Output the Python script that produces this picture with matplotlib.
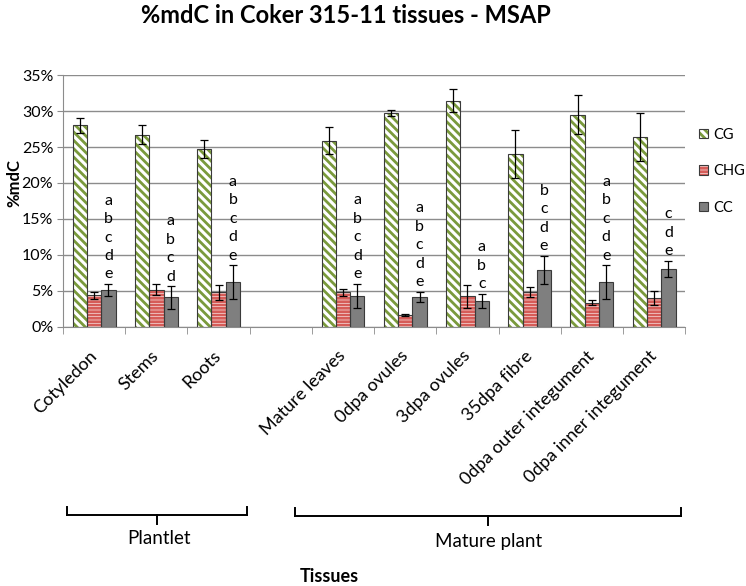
import numpy as np
import matplotlib.pyplot as plt
from matplotlib.lines import Line2D
from matplotlib.patches import Patch
from matplotlib.ticker import PercentFormatter
from matplotlib.transforms import ScaledTranslation

# %mdC per tissue (percent)
tissues = ['Cotyledon', 'Stems', 'Roots', 'Mature leaves', '0dpa ovules', '3dpa ovules',
           '35dpa fibre', '0dpa outer integument', '0dpa inner integument']
cg = [28.0, 26.7, 24.7, 25.9, 29.7, 31.4, 24.0, 29.5, 26.4]
cg_err = [1.0, 1.3, 1.25, 1.85, 0.45, 1.6, 3.3, 2.75, 3.3]
chg = [4.4, 5.2, 4.8, 4.8, 1.65, 4.3, 4.8, 3.4, 4.0]
chg_err = [0.5, 0.8, 1.05, 0.45, 0.1, 1.6, 0.7, 0.3, 1.0]
cc = [5.1, 4.1, 6.2, 4.3, 4.2, 3.6, 7.9, 6.2, 8.1]
cc_err = [0.85, 1.55, 2.35, 1.7, 0.7, 1.0, 1.95, 2.35, 1.1]
letters = ['abcde', 'abcd', 'abcde', 'abcde', 'abcde', 'abc', 'bcde', 'abcde', 'cde']

plt.rcParams['font.family'] = ['Lato', 'DejaVu Sans']
plt.rcParams['hatch.linewidth'] = 2.0

grey = '#8C8C8C'
green = '#7A9A3C'
red = '#D65C58'

fig = plt.figure(figsize=(7.46, 5.86), dpi=100)
ax = fig.add_axes([0.0845, 0.442, 0.834, 0.430])

# one empty slot between the plantlet and the mature plant tissues
idx = np.arange(len(tissues))
pos = idx + (idx >= 3)
w = 0.23

series = [('CG', cg, cg_err, -w, 'white', green, '\\\\\\\\'),
          ('CHG', chg, chg_err, 0, 'white', red, '-----'),
          ('CC', cc, cc_err, w, '#7F7F7F', '#7F7F7F', None)]

handles = []
for name, vals, err, off, fc, hc, hatch in series:
    ax.bar(pos + off, vals, w, color=fc, edgecolor=hc, hatch=hatch, linewidth=0, zorder=2)
    ax.bar(pos + off, vals, w, fill=False, edgecolor='#3A3A3A', linewidth=0.8, zorder=3)
    ax.errorbar(pos + off, vals, yerr=err, fmt='none', ecolor='black',
                elinewidth=0.9, capsize=3, capthick=0.9, zorder=4)
    handles.append((Patch(facecolor=fc, edgecolor=hc, hatch=hatch, linewidth=0),
                    Patch(fill=False, edgecolor='#3A3A3A', linewidth=0.8)))

# significance letters above the CC bars
for p, v, e, s in zip(pos, cc, cc_err, letters):
    ax.annotate('\n'.join(s), (p + w, v + e), xytext=(0, 2), textcoords='offset points',
                ha='center', va='bottom', fontsize=11.5, linespacing=1.4)

ax.set_xlim(-0.5, 9.5)
ax.set_ylim(0, 35)
ax.set_yticks(np.arange(0, 36, 5))
ax.yaxis.set_major_formatter(PercentFormatter(decimals=0))
ax.grid(axis='y', color=grey, linewidth=1, zorder=0)
ax.set_axisbelow(True)

ax.set_xticks(pos)
ax.set_xticklabels(tissues, rotation=45, ha='right', va='center', rotation_mode='anchor', fontsize=13)
shift = ScaledTranslation(7 / 72, 0, fig.dpi_scale_trans)
for lab in ax.get_xticklabels():
    lab.set_transform(lab.get_transform() + shift)
ax.set_xticks(np.arange(-0.5, 10), minor=True)
ax.tick_params(axis='x', which='major', length=0, pad=19)
ax.tick_params(axis='x', which='minor', length=5, color=grey, direction='out')
ax.tick_params(axis='y', length=4, color=grey, labelsize=11.5, pad=3)

for side in ['top', 'right']:
    ax.spines[side].set_visible(False)
for side in ['left', 'bottom']:
    ax.spines[side].set_color(grey)

ax.set_ylabel('%mdC', fontsize=12, fontweight='bold', labelpad=4)
ax.yaxis.set_label_coords(-0.065, 0.57)

fig.text(0.463, 0.974, '%mdC in Coker 315-11 tissues - MSAP', ha='center', va='center',
         fontsize=17, fontweight='bold')

fig.legend(handles, ['CG', 'CHG', 'CC'], loc='center left', bbox_to_anchor=(0.937, 0.708),
           frameon=False, fontsize=10.5, handlelength=0.65, handleheight=0.65,
           handletextpad=0.35, labelspacing=1.55, borderpad=0, borderaxespad=0)

# group braces below the tick labels (figure pixel coords)
H, W = 586, 746
def brace(x0, x1, xm, y):
    pts = [((x0, y - 8), (x0, y)), ((x0, y), (x1, y)), ((x1, y), (x1, y - 8)), ((xm, y), (xm, y + 9))]
    for (a, b), (c, d) in pts:
        fig.add_artist(Line2D([a / W, c / W], [1 - b / H, 1 - d / H], color='black', lw=1.4))

brace(67, 247, 157, 515)
brace(295, 681, 488, 516)
fig.text(159 / W, 1 - 539 / H, 'Plantlet', ha='center', va='center', fontsize=13.5)
fig.text(489 / W, 1 - 542 / H, 'Mature plant', ha='center', va='center', fontsize=13.5)
fig.text(329 / W, 1 - 577 / H, 'Tissues', ha='center', va='center', fontsize=13, fontweight='bold')

fig.savefig('out.png', dpi=100)
